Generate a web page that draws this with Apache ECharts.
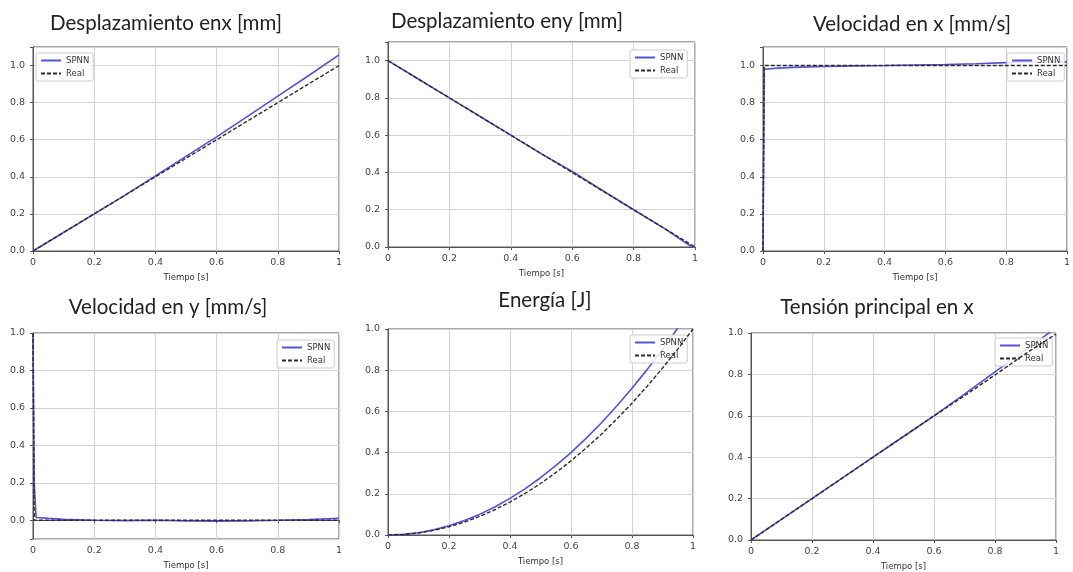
<!DOCTYPE html>
<html>
<head>
<meta charset="utf-8">
<script src="https://cdn.jsdelivr.net/npm/echarts@6/dist/echarts.min.js"></script>
<style>
html,body{margin:0;padding:0;background:#fff;}
#c{width:1073px;height:572px;}
</style>
</head>
<body>
<div id="c"></div>
<script>
// ---------- data ----------
const titles = ['Desplazamiento enx [mm]', 'Desplazamiento eny [mm]', 'Velocidad en x [mm/s]',
                'Velocidad en y [mm/s]', 'Energía [J]', 'Tensión principal en x'];
const seriesNames = ['SPNN', 'Real'];
const xAxisName = 'Tiempo [s]';

// Panel 1: Desplazamiento en x
const tDx = [0, 0.1, 0.2, 0.3, 0.4, 0.5, 0.6, 0.7, 0.8, 0.9, 1.0];
const spnnDx = [0, 0.1, 0.2, 0.3, 0.405, 0.51, 0.615, 0.725, 0.835, 0.945, 1.058];
const realDx = [0, 0.1, 0.2, 0.3, 0.4, 0.5, 0.6, 0.7, 0.8, 0.9, 1.0];

// Panel 2: Desplazamiento en y
const tDy = [0, 0.1, 0.2, 0.3, 0.4, 0.5, 0.6, 0.7, 0.8, 0.9, 0.99, 1.0];
const spnnDy = [1.0, 0.9, 0.8, 0.7, 0.6, 0.5, 0.405, 0.302, 0.2, 0.1, 0.0, 0.0];
const realDy = [1.0, 0.9, 0.8, 0.7, 0.6, 0.5, 0.4, 0.3, 0.2, 0.1, 0.01, 0.0];

// Panel 3: Velocidad en x
const tVx = [0, 0.004, 0.01, 0.05, 0.1, 0.2, 0.3, 0.4, 0.5, 0.6, 0.7, 0.8, 0.9, 1.0];
const spnnVx = [0, 0.98, 0.983, 0.986, 0.99, 0.995, 0.998, 1.0, 1.003, 1.006, 1.01, 1.016, 1.018, 1.02];
const realVx = [0, 1.0, 1.0, 1.0, 1.0, 1.0, 1.0, 1.0, 1.0, 1.0, 1.0, 1.0, 1.0, 1.0];

// Panel 4: Velocidad en y
const tVy = [0, 0.004, 0.01, 0.05, 0.1, 0.2, 0.3, 0.4, 0.5, 0.6, 0.7, 0.8, 0.9, 1.0];
const spnnVy = [1.0, 0.2, 0.015, 0.01, 0.005, 0.0, -0.002, 0.0, -0.003, -0.005, -0.003, 0.0, 0.004, 0.01];
const realVy = [1.0, 0.0, 0.0, 0.0, 0.0, 0.0, 0.0, 0.0, 0.0, 0.0, 0.0, 0.0, 0.0, 0.0];

// Panel 5: Energía
const tE = [0, 0.05, 0.1, 0.15, 0.2, 0.25, 0.3, 0.35, 0.4, 0.45, 0.5, 0.55, 0.6, 0.65, 0.7, 0.75, 0.8, 0.85, 0.9, 0.95, 1.0];
const spnnE = [0, 0.003, 0.011, 0.025, 0.045, 0.07, 0.1, 0.136, 0.178, 0.225, 0.278, 0.337, 0.40, 0.47, 0.545, 0.626, 0.712, 0.804, 0.90, 1.005, 1.113];
const realE = [0, 0.0025, 0.01, 0.0225, 0.04, 0.0625, 0.09, 0.1225, 0.16, 0.2025, 0.25, 0.3025, 0.36, 0.4225, 0.49, 0.5625, 0.64, 0.7225, 0.81, 0.9025, 1.0];

// Panel 6: Tensión principal en x
const tS = [0, 0.1, 0.2, 0.3, 0.4, 0.5, 0.6, 0.7, 0.8, 0.9, 1.0];
const spnnS = [0, 0.1, 0.2, 0.3, 0.4, 0.5, 0.6, 0.705, 0.812, 0.918, 1.025];
const realS = [0, 0.1, 0.2, 0.3, 0.4, 0.5, 0.6, 0.697, 0.797, 0.9, 0.995];

const yRanges = [[0, 1.1], [0, 1.1], [0, 1.1], [-0.1, 1.0], [0, 1.0], [0, 1.0]];
const panels = [
  [tDx, spnnDx, realDx], [tDy, spnnDy, realDy], [tVx, spnnVx, realVx],
  [tVy, spnnVy, realVy], [tE, spnnE, realE], [tS, spnnS, realS]
];

// ---------- layout ----------
const grids = [
  {left: 33, top: 47, width: 306, height: 204},
  {left: 388, top: 42, width: 307, height: 205},
  {left: 763, top: 47, width: 306, height: 204},
  {left: 33, top: 333, width: 306, height: 206},
  {left: 388, top: 329, width: 305, height: 206},
  {left: 751, top: 333, width: 305, height: 207}
];
const titlePos = [[166, 13], [507, 11], [912, 14], [168, 297], [545, 290], [877, 297]];
const legendPos = [[36, 53], [630, 50], [1007, 53], [277, 340], [630, 335], [995, 338]];

const BLUE = '#5252d6';
const DARK = '#2b2b2b';
const AX = '#555';

const pairs = (xs, ys) => xs.map((x, i) => [x, ys[i]]);
const yFmt = v => (Math.abs(v * 5 - Math.round(v * 5)) < 1e-6) ? (Math.abs(v) < 1e-9 ? 0 : v).toFixed(1) : '';
const xFmt = v => (Math.abs(v) < 1e-9 ? '0' : (Math.abs(v - 1) < 1e-9 ? '1' : v.toFixed(1)));

const option = {
  backgroundColor: '#fff',
  animation: false,
  title: titles.map((t, i) => ({
    text: t, left: titlePos[i][0], top: titlePos[i][1], textAlign: 'center', padding: 0,
    textStyle: {fontFamily: 'Lato', fontWeight: 'normal', fontSize: 20.5, color: '#222'}
  })),
  grid: grids.map(g => Object.assign({show: true, borderColor: AX, borderWidth: 1, backgroundColor: '#fff', containLabel: false}, g)),
  legend: legendPos.map(p => ({
    data: seriesNames, orient: 'vertical', left: p[0], top: p[1],
    itemWidth: 20, itemHeight: 8, itemGap: 4, padding: [3, 4, 3, 4],
    borderColor: '#cccccc', borderWidth: 1, borderRadius: 2,
    backgroundColor: 'rgba(255,255,255,0.85)',
    itemStyle: {opacity: 0},
    textStyle: {fontFamily: 'DejaVu Sans', fontSize: 8.5, color: '#333'}
  })),
  xAxis: grids.map((g, i) => ({
    type: 'value', gridIndex: i, min: 0, max: 1, interval: 0.2,
    name: xAxisName, nameLocation: 'middle', nameGap: 22,
    nameTextStyle: {fontFamily: 'DejaVu Sans', fontSize: 8.5, color: '#333'},
    axisLine: {show: true, lineStyle: {color: AX, width: 1}},
    axisTick: {show: true, length: 3, lineStyle: {color: AX}},
    axisLabel: {formatter: xFmt, fontFamily: 'DejaVu Sans', fontSize: 9.5, color: '#444', margin: 7},
    splitLine: {show: true, lineStyle: {color: '#d4d4d4', width: 1}}
  })),
  yAxis: grids.map((g, i) => {
    const r = yRanges[i];
    const ax = {
      type: 'value', gridIndex: i, min: r[0], max: r[1],
      axisLine: {show: true, lineStyle: {color: AX, width: 1}},
      axisTick: {show: true, length: 3, lineStyle: {color: AX}},
      axisLabel: {formatter: yFmt, fontFamily: 'DejaVu Sans', fontSize: 9.5, color: '#444', margin: 8},
      splitLine: {show: true, lineStyle: {color: '#d4d4d4', width: 1}}
    };
    if (r[0] === 0) ax.interval = 0.2; else ax.splitNumber = 5;
    return ax;
  }),
  series: []
};

panels.forEach((p, i) => {
  option.series.push({
    name: 'SPNN', type: 'line', xAxisIndex: i, yAxisIndex: i, data: pairs(p[0], p[1]),
    symbol: 'none', showSymbol: false, clip: true, z: 3,
    lineStyle: {color: BLUE, width: 1.6}, itemStyle: {color: BLUE}
  });
  option.series.push({
    name: 'Real', type: 'line', xAxisIndex: i, yAxisIndex: i, data: pairs(p[0], p[2]),
    symbol: 'none', showSymbol: false, clip: true, z: 4,
    lineStyle: {color: DARK, width: 1.4, type: [4, 2]}, itemStyle: {color: DARK}
  });
});

const chart = echarts.init(document.getElementById('c'), null, {renderer: 'canvas'});
chart.setOption(option);
</script>
</body>
</html>
